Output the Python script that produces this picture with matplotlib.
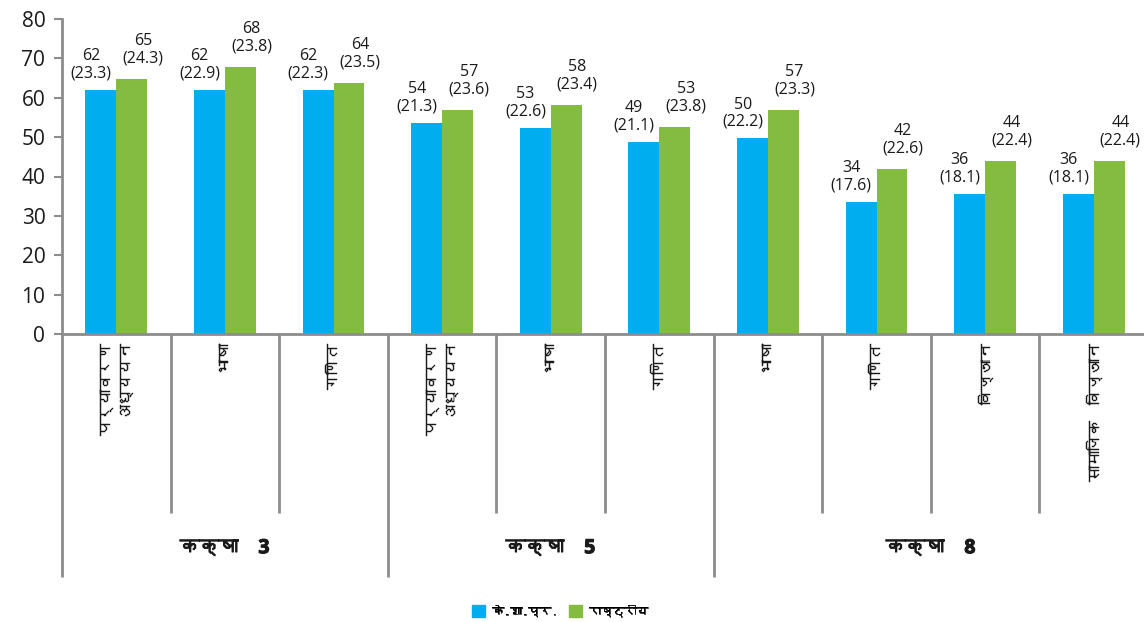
import matplotlib
matplotlib.use("Agg")
import matplotlib.pyplot as plt
import matplotlib.font_manager as fm
import matplotlib.patheffects as pe
from matplotlib.ft2font import FT2Font
from matplotlib.transforms import blended_transform_factory
from matplotlib.patches import Patch
import numpy as np

# ---------------- data ----------------
grades = ["कक्षा 3", "कक्षा 5", "कक्षा 8"]
grade_sizes = [3, 3, 4]
subjects = ["पर्यावरण\nअध्ययन", "भाषा", "गणित",
            "पर्यावरण\nअध्ययन", "भाषा", "गणित",
            "भाषा", "गणित", "विज्ञान", "सामाजिक  विज्ञान"]
series_names = ["के.शा.प्र.", "राष्ट्रीय"]
kvs_values = [61.9, 61.9, 61.9, 53.6, 52.3, 48.8, 49.7, 33.6, 35.6, 35.6]
nat_values = [64.7, 67.8, 63.7, 56.9, 58.1, 52.5, 56.9, 41.9, 43.9, 43.9]
kvs_means = [62, 62, 62, 54, 53, 49, 50, 34, 36, 36]
kvs_sd = [23.3, 22.9, 22.3, 21.3, 22.6, 21.1, 22.2, 17.6, 18.1, 18.1]
nat_means = [65, 68, 64, 57, 58, 53, 57, 42, 44, 44]
nat_sd = [24.3, 23.8, 23.5, 23.6, 23.4, 23.8, 23.3, 22.6, 22.4, 22.4]
yticks = [0, 10, 20, 30, 40, 50, 60, 70, 80]

# ---------------- fonts ----------------
def find_devanagari():
    seen = set()
    for f in fm.fontManager.ttflist:
        if f.name in seen:
            continue
        seen.add(f.name)
        try:
            ft = FT2Font(f.fname)
            if ft.get_char_index(0x0915) and ft.get_char_index(0x0937):
                return f.name
        except Exception:
            pass
    return None

deva = find_devanagari()
latin = "Open Sans"
hindi_family = ([deva] if deva else []) + [latin, "DejaVu Sans"]
mixed_family = [latin] + ([deva] if deva else []) + ["DejaVu Sans"]

BLUE = "#00AEEF"
GREEN = "#84BC41"
GRAY = "#8C8C8C"
TXT = "#1A1A1A"

fig = plt.figure(figsize=(11.44, 6.22), dpi=100)
W, H = 1144, 622
ax = fig.add_axes([62 / W, (H - 334) / H, 1086 / W, 315 / H])

x = np.arange(len(subjects))
bw = 0.285
ax.bar(x - bw / 2, kvs_values, bw, color=BLUE, label=series_names[0], zorder=2)
ax.bar(x + bw / 2, nat_values, bw, color=GREEN, label=series_names[1], zorder=2)

ax.set_xlim(-0.5, len(subjects) - 0.5)
ax.set_ylim(0, 80)
ax.set_yticks(yticks)
ax.set_yticklabels([str(v) for v in yticks], fontsize=15, family=latin, color=TXT)
ax.tick_params(axis="y", direction="out", length=6, width=1.5, color=GRAY, pad=6)
ax.set_xticks([])
for s in ["top", "right"]:
    ax.spines[s].set_visible(False)
ax.spines["left"].set_color(GRAY)
ax.spines["left"].set_linewidth(2)
ax.spines["bottom"].set_color(GRAY)
ax.spines["bottom"].set_linewidth(2)

# data labels
for i in range(len(subjects)):
    ax.annotate(f"{kvs_means[i]}\n({kvs_sd[i]})", (x[i] - bw / 2, kvs_values[i]),
                xytext=(-7, 6), textcoords="offset points", ha="center", va="bottom",
                multialignment="center", fontsize=11.5, family=latin, color=TXT,
                linespacing=1.12)
    ax.annotate(f"{nat_means[i]}\n({nat_sd[i]})", (x[i] + bw / 2, nat_values[i]),
                xytext=(8, 9), textcoords="offset points", ha="center", va="bottom",
                multialignment="center", fontsize=11.5, family=latin, color=TXT,
                linespacing=1.12)

# hierarchical category axis
trans = blended_transform_factory(ax.transData, ax.transAxes)
inner_bottom = (334 - 513) / 315
outer_bottom = (334 - 577) / 315
bounds = np.cumsum([0] + grade_sizes)
for k in range(1, len(subjects)):
    yb = outer_bottom if k in bounds else inner_bottom
    ax.plot([k - 0.5, k - 0.5], [0, yb], transform=trans, color=GRAY, lw=2,
            clip_on=False, solid_capstyle="butt")
ax.plot([-0.5, -0.5], [0, outer_bottom], transform=trans, color=GRAY, lw=2,
        clip_on=False, solid_capstyle="butt")

for i, s in enumerate(subjects):
    ax.text(x[i], -0.033, s, transform=trans, rotation=90, ha="center", va="top",
            multialignment="right", fontsize=11, family=hindi_family, color=TXT,
            linespacing=1.6,
            path_effects=[pe.withStroke(linewidth=0.3, foreground=TXT)])

for g, name in enumerate(grades):
    c = (bounds[g] + bounds[g + 1] - 1) / 2
    ax.text(c, -0.68, name.replace(" ", "    "), transform=trans, ha="center", va="center",
            fontsize=14, fontweight="bold", family=mixed_family, color=TXT,
            path_effects=[pe.withStroke(linewidth=0.8, foreground=TXT)])

handles = [Patch(color=BLUE), Patch(color=GREEN)]
leg = fig.legend(handles, series_names, loc="center", bbox_to_anchor=(560 / W, 1 - 611 / H),
                 ncol=2, frameon=False, handlelength=1.1, handleheight=1.1, handletextpad=0.6,
                 columnspacing=1.0, prop={"family": hindi_family, "size": 8.5})
for t in leg.get_texts():
    t.set_path_effects([pe.withStroke(linewidth=0.4, foreground=TXT)])

fig.savefig("out.png", dpi=100)
